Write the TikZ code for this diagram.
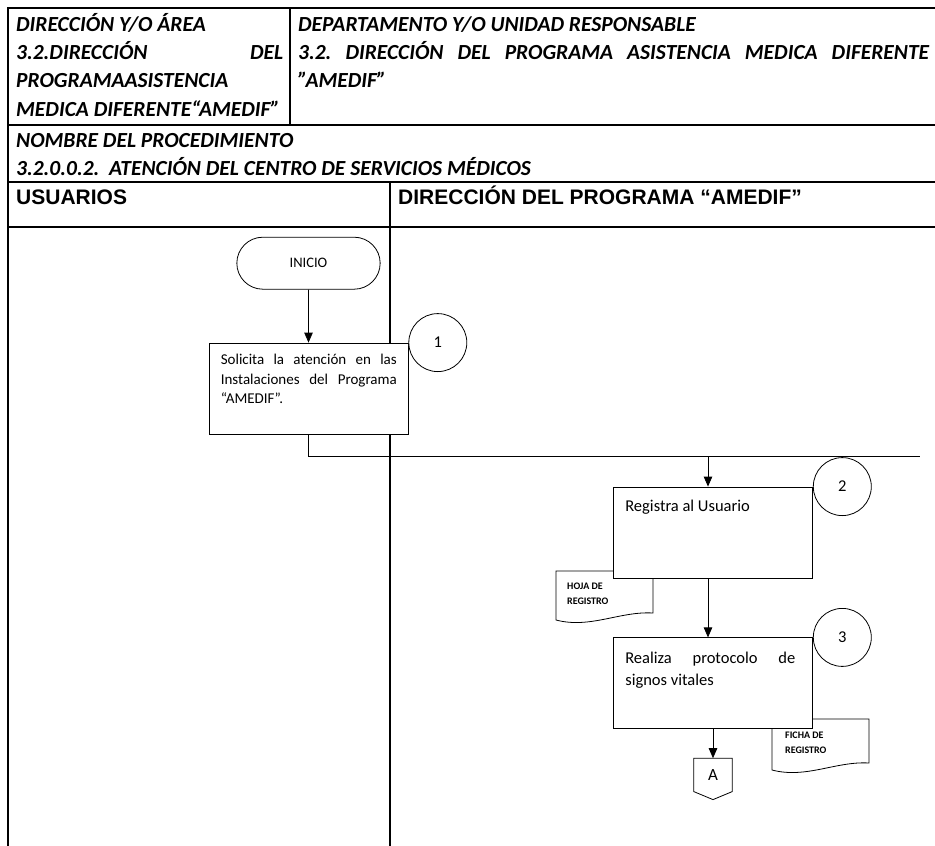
\documentclass[tikz,border=0pt]{standalone}
\usepackage{fontspec}
\setmainfont{Carlito}
\newfontfamily\arialfont{Liberation Sans}
\usetikzlibrary{arrows.meta,calc,positioning,shapes.misc}
\frenchspacing

\begin{document}
\begin{tikzpicture}
[x=1pt, y=-1pt,
    grid/.style={line width=1.3pt},
    flow/.style={thick,-{Triangle[width=8.5pt,length=10pt]}},
    head/.style={anchor=base west,inner sep=0pt,align=left,font=\fontsize{21.5}{28.3}\selectfont\bfseries\itshape},
    lane/.style={anchor=base west,inner sep=0pt,font=\arialfont\fontsize{21}{24}\selectfont\bfseries},
    start/.style={draw,thick,rounded rectangle,minimum width=150pt,minimum height=52pt,font=\fontsize{14.5}{16}\selectfont},
    task/.style={draw,thick,fill=white,minimum width=199pt,minimum height=91pt},
    num/.style={draw,circle,thick,fill=white,minimum size=58pt,inner sep=0pt,font=\fontsize{16.5}{18}\selectfont},
    boxtext/.style={anchor=base west,inner sep=0pt,align=left},
    doctext/.style={anchor=base west,inner sep=0pt,align=left,font=\fontsize{10}{15}\selectfont\bfseries}]
    \useasboundingbox (0,0) rectangle (935,846);
    \draw[grid] (935,8) -- (8,8) -- (8,846);
    \draw[grid] (290,8) -- (290,125);
    \draw[grid] (8,125) -- (935,125);
    \draw[grid] (8,182) -- (935,182);
    \draw[grid] (8,227) -- (935,227);
    \draw[grid] (390,182) -- (390,846);
    \node[head] (area) at (16,116) {DIRECCIÓN Y/O ÁREA\\
        \makebox[267pt][s]{3.2.DIRECCIÓN DEL}\\
        PROGRAMAASISTENCIA\\
        MEDICA DIFERENTE“AMEDIF”};
    \node[head] (depto) at (298,87.6) {DEPARTAMENTO Y/O UNIDAD RESPONSABLE\\
        \makebox[631pt][s]{3.2. DIRECCIÓN DEL PROGRAMA ASISTENCIA MEDICA DIFERENTE}\\
        ”AMEDIF”};
    \node[head,font=\fontsize{21.5}{28}\selectfont\bfseries\itshape] (proc) at (16,175) {NOMBRE DEL PROCEDIMIENTO\\
        3.2.0.0.2.\ \ ATENCIÓN DEL CENTRO DE SERVICIOS MÉDICOS};
    \node[lane] (usuarios) at (16,204) {USUARIOS};
    \node[lane] (direccion) at (398,204) {DIRECCIÓN DEL PROGRAMA “AMEDIF”};
    \draw[thick,fill=white] (556,571) -- (653,571) -- (653,613) .. controls (620,611) and (590,629) .. (556,620) -- cycle;
    \draw[thick,fill=white] (772,719) -- (869,719) -- (869,763) .. controls (836,761) and (806,779) .. (772,770) -- cycle;
    \node[task] (b1) at (308.5,388.5) {};
    \node[start,above=53pt of b1] (inicio) {INICIO};
    \node[task] (b2) at (713,532.5) {};
    \node[task,below=59pt of b2] (b3) {};
    \node[num,anchor=west] (c1) at (b1.north east) {1};
    \node[num,anchor=west] (c2) at (b2.north east) {2};
    \node[num,anchor=west] (c3) at (b3.north east) {3};
    \node[boxtext,font=\fontsize{15}{19.5}\selectfont] (t1) at ($(b1.north west)+(12,61)$)
        {\makebox[176pt][s]{Solicita la atención en las}\\
        \makebox[176pt][s]{Instalaciones del Programa}\\
        “AMEDIF”.};
    \node[boxtext,font=\fontsize{16.5}{20}\selectfont] (t2) at ($(b2.north west)+(12,25)$) {Registra al Usuario};
    \node[boxtext,font=\fontsize{16.5}{21.5}\selectfont] (t3) at ($(b3.north west)+(12,48)$)
        {\makebox[170pt][s]{Realiza protocolo de}\\
        signos vitales};
    \node[doctext] (hoja) at (567,604) {HOJA DE\\REGISTRO};
    \node[doctext] (ficha) at (785,753) {FICHA DE\\REGISTRO};
    \node[inner sep=0pt,minimum width=38pt,minimum height=33pt,below=29pt of b3,font=\fontsize{17}{18}\selectfont] (conA) {A};
    \draw[thick] (conA.north west) -- (conA.north east) -- (conA.south east) -- ([yshift=-8pt]conA.south) -- (conA.south west) -- cycle;
    \coordinate (jn) at (920,456);
    \coordinate (j2) at (708,456);
    \draw[flow] (inicio) -- (b1);
    \draw[thick] (b1.south) |- (jn);
    \draw[flow] (j2) -- (j2 |- b2.north);
    \draw[flow] ([xshift=-5pt]b2.south) -- ([xshift=-5pt]b3.north);
    \draw[flow] (b3.south) -- (conA.north);
\end{tikzpicture}
\end{document}
